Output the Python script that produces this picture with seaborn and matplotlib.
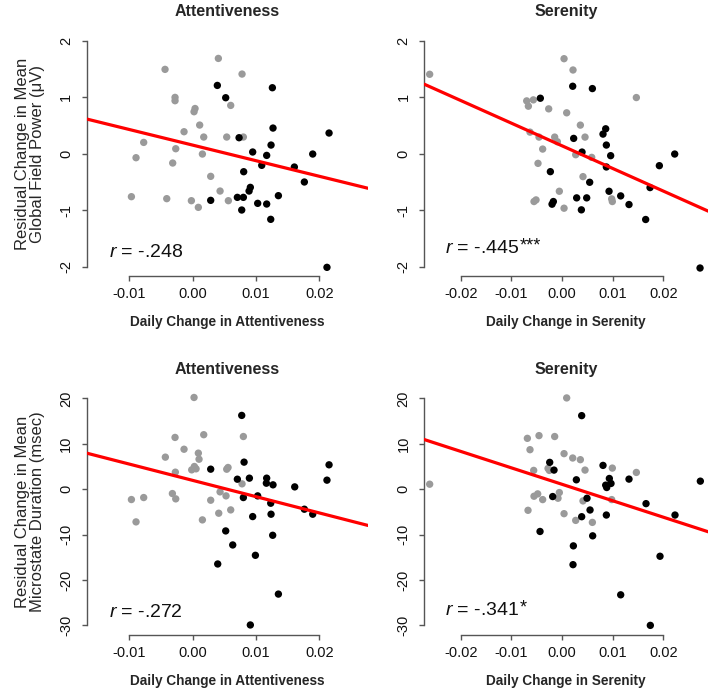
import numpy as np
import pandas as pd
import matplotlib
matplotlib.use("Agg")
import matplotlib.pyplot as plt
import seaborn as sns

sns.set_style("white")
plt.rcParams['font.family'] = ['Liberation Sans', 'DejaVu Sans']
plt.rcParams['axes.unicode_minus'] = False
plt.rcParams['mathtext.fontset'] = 'custom'
plt.rcParams['mathtext.rm'] = 'Liberation Sans'
plt.rcParams['mathtext.it'] = 'Liberation Sans:italic'

# ---------------- data ----------------
# Panel A: Attentiveness vs GFP
att_gfp_gray_x = [0.00405, -0.00437, 0.00779, -0.00279, -0.00279, 0.00037, 0.00021, 0.0060, 0.0011,
                  -0.00137, 0.00174, 0.00537, 0.0080, -0.00774, -0.00268, 0.00153, -0.00895, -0.00316,
                  0.00284, 0.00432, -0.00968, -0.0041, -0.00021, 0.00563, 0.00089]
att_gfp_gray_y = [1.687, 1.493, 1.41, 0.997, 0.938, 0.80, 0.743, 0.855, 0.507,
                  0.389, 0.295, 0.295, 0.295, 0.20, 0.088, -0.006, -0.071, -0.165,
                  -0.401, -0.661, -0.761, -0.796, -0.832, -0.832, -0.95]
att_gfp_black_x = [0.00389, 0.00521, 0.01258, 0.01268, 0.02153, 0.00732, 0.01237, 0.00947, 0.01168,
                   0.01895, 0.0109, 0.01605, 0.00805, 0.01763, 0.0091, 0.0089, 0.00705, 0.0080,
                   0.01353, 0.00284, 0.01026, 0.01168, 0.00774, 0.01232, 0.0212]
att_gfp_black_y = [1.209, 0.991, 1.168, 0.454, 0.366, 0.283, 0.153, 0.03, -0.03,
                   -0.006, -0.206, -0.236, -0.319, -0.501, -0.596, -0.661, -0.773, -0.773,
                   -0.743, -0.826, -0.879, -0.891, -0.997, -1.162, -2.012]

# Panel B: Serenity vs GFP
ser_gfp_gray_x = [-0.02612, 0.0004, 0.00217, 0.01467, -0.00697, -0.00566, -0.00664, -0.00263, 0.00092,
                  0.00362, -0.00632, -0.00454, -0.00145, 0.00454, -0.00092, -0.00382, 0.0027, 0.00586,
                  -0.00474, 0.00414, -0.00053, -0.00513, -0.00553, 0.0098, 0.00993, 0.0004]
ser_gfp_gray_y = [1.406, 1.682, 1.482, 0.994, 0.935, 0.953, 0.841, 0.794, 0.724,
                  0.506, 0.382, 0.294, 0.294, 0.294, 0.212, 0.082, -0.018, -0.065,
                  -0.171, -0.406, -0.665, -0.818, -0.847, -0.80, -0.847, -0.965]
ser_gfp_black_x = [0.00211, 0.00599, -0.00428, 0.00862, 0.00809, 0.0023, 0.00875, 0.00395, 0.0096,
                   0.02224, 0.00875, 0.01921, -0.0023, 0.00546, 0.01737, 0.00928, 0.01158, 0.01322,
                   0.00289, 0.00487, -0.00171, -0.00197, 0.00382, 0.01651, 0.02724]
ser_gfp_black_y = [1.194, 1.153, 0.982, 0.441, 0.347, 0.271, 0.153, 0.029, -0.035,
                   -0.006, -0.235, -0.212, -0.318, -0.506, -0.60, -0.665, -0.747, -0.90,
                   -0.782, -0.782, -0.847, -0.894, -0.994, -1.165, -2.024]

# Panel C: Attentiveness vs microstate duration
att_dur_gray_x = [0.00021, -0.00279, 0.00174, 0.0080, -0.00137, -0.00432, 0.00089, 0.0010, -0.00274,
                  -0.00016, 0.00026, 0.00053, 0.00537, 0.00558, 0.00779, 0.00432, 0.00526, -0.00968,
                  -0.00774, -0.00321, -0.00268, 0.00284, 0.00411, 0.0060, -0.00895, 0.00153]
att_dur_gray_y = [20.2, 11.4, 12.0, 11.6, 8.8, 7.06, 7.94, 6.6, 3.75,
                  4.26, 5.0, 4.49, 4.4, 4.78, 1.18, -0.59, -1.47, -2.28,
                  -1.84, -0.96, -2.13, -2.43, -5.29, -4.56, -7.2, -6.76]
att_dur_black_x = [0.00774, 0.00811, 0.02153, 0.00284, 0.00895, 0.00705, 0.01168, 0.01163, 0.01268,
                   0.0212, 0.01611, 0.01026, 0.0080, 0.01232, 0.01763, 0.01895, 0.00947, 0.01237,
                   0.00521, 0.01263, 0.00632, 0.0099, 0.00395, 0.01353, 0.0091]
att_dur_black_y = [16.25, 5.96, 5.37, 4.41, 2.43, 2.2, 2.43, 1.32, 0.96,
                   1.99, 0.51, -1.47, -1.84, -3.09, -4.41, -5.51, -6.03, -5.51,
                   -9.19, -10.15, -12.28, -14.56, -16.47, -23.1, -29.9]

# Panel D: Serenity vs microstate duration
ser_dur_gray_x = [-0.02612, 0.00092, -0.00684, -0.00454, -0.00145, -0.00632, 0.0004, 0.00211, 0.00362,
                  -0.00559, -0.00276, -0.0025, 0.00454, 0.00993, 0.01467, -0.00053, -0.0048, -0.00553,
                  -0.00079, -0.00382, 0.00414, 0.0098, -0.00671, 0.0004, 0.0027, 0.00599]
ser_dur_gray_y = [1.1, 20.1, 11.2, 11.8, 11.6, 8.7, 7.83, 6.87, 6.5,
                  4.14, 4.58, 4.14, 4.21, 4.65, 3.69, -0.74, -1.03, -1.55,
                  -1.99, -2.29, -2.58, -2.29, -4.65, -5.39, -6.87, -7.31]
ser_dur_black_x = [0.00388, -0.00243, -0.00158, 0.00809, 0.00283, 0.01322, 0.00934, 0.0273, 0.00862,
                   0.00882, 0.00967, -0.00184, 0.00493, 0.01658, 0.00553, 0.00875, 0.0223, 0.00388,
                   -0.00434, 0.00605, 0.00224, 0.01934, 0.00217, 0.01158, 0.01743]
ser_dur_black_y = [16.2, 5.91, 4.21, 5.24, 2.07, 2.22, 2.36, 1.77, 0.89,
                   0.37, 1.26, -1.62, -1.99, -3.18, -4.58, -5.69, -5.69, -6.06,
                   -9.31, -10.27, -12.48, -14.77, -16.62, -23.26, -29.99]

# regression lines (intercept, slope)
line_att_gfp = (0.152, -27.6)
line_ser_gfp = (0.14, -40.1)
line_att_dur = (1.94, -358.5)
line_ser_dur = (1.08, -362.4)

titles = ["Attentiveness", "Serenity", "Attentiveness", "Serenity"]
xlabels = ["Daily Change in Attentiveness", "Daily Change in Serenity",
           "Daily Change in Attentiveness", "Daily Change in Serenity"]
ylabels = ["Residual Change in Mean\nGlobal Field Power (\u03bcV)", None,
           "Residual Change in Mean\nMicrostate Duration (msec)", None]
r_values = ["-.248", "-.445", "-.272", "-.341"]
r_stars = ["", "***", "", "*"]

att_xticks = [-0.01, 0.00, 0.01, 0.02]
ser_xticks = [-0.02, -0.01, 0.00, 0.01, 0.02]
gfp_yticks = [-2, -1, 0, 1, 2]
dur_yticks = [-30, -20, -10, 0, 10, 20]

panels = [
    (att_gfp_gray_x, att_gfp_gray_y, att_gfp_black_x, att_gfp_black_y, line_att_gfp, att_xticks, gfp_yticks),
    (ser_gfp_gray_x, ser_gfp_gray_y, ser_gfp_black_x, ser_gfp_black_y, line_ser_gfp, ser_xticks, gfp_yticks),
    (att_dur_gray_x, att_dur_gray_y, att_dur_black_x, att_dur_black_y, line_att_dur, att_xticks, dur_yticks),
    (ser_dur_gray_x, ser_dur_gray_y, ser_dur_black_x, ser_dur_black_y, line_ser_dur, ser_xticks, dur_yticks),
]

xlims = [(-0.01674, 0.02768), (-0.02718, 0.02887), (-0.01674, 0.02768), (-0.02718, 0.02887)]
ylims = [(-2.16, 2.16), (-2.16, 2.16), (-32, 22), (-32, 22)]
r_pos = [(0.079, 0.077), (0.073, 0.093), (0.079, 0.073), (0.073, 0.080)]

W, H = 709, 688
fig = plt.figure(figsize=(W / 100, H / 100), dpi=100)
axes_rects = [
    (86.7, 31.7, 281.3, 244.0),
    (424.3, 31.7, 284.0, 244.0),
    (86.7, 389.3, 281.3, 245.2),
    (424.3, 389.3, 284.0, 245.2),
]

axis_col = "#555555"
for i, (gx, gy, bx, by, (b0, b1), xt, yt) in enumerate(panels):
    l, t, w, h = axes_rects[i]
    ax = fig.add_axes([l / W, 1 - (t + h) / H, w / W, h / H])
    df = pd.DataFrame({
        "x": list(gx) + list(bx),
        "y": list(gy) + list(by),
        "group": ["gray"] * len(gx) + ["black"] * len(bx),
    })
    sns.scatterplot(data=df, x="x", y="y", hue="group",
                    palette={"gray": "#9a9a9a", "black": "#000000"},
                    s=28, linewidth=0, legend=False, ax=ax, zorder=2)
    ax.axline((0, b0), slope=b1, color="#ff0000", lw=2.3, zorder=3)
    ax.set_xlim(*xlims[i])
    ax.set_ylim(*ylims[i])
    ax.set_xticks(xt)
    ax.set_xticklabels([f"{v:.2f}" for v in xt])
    ax.set_yticks(yt)
    ax.set_yticklabels([str(v) for v in yt], rotation=90, va="center")
    for s in ["top", "right"]:
        ax.spines[s].set_visible(False)
    for s in ["left", "bottom"]:
        ax.spines[s].set_color(axis_col)
        ax.spines[s].set_linewidth(1.0)
    ax.spines["bottom"].set_bounds(xt[0], xt[-1])
    ax.spines["left"].set_bounds(yt[0], yt[-1])
    ax.tick_params(axis="both", which="both", direction="out", length=3.8, width=1.0,
                   color=axis_col, labelsize=10.5, labelcolor="#111111", pad=4.5,
                   bottom=True, left=True)
    ax.tick_params(axis="y", pad=6)
    ax.set_title(titles[i], fontsize=11.5, fontweight="bold", pad=11)
    ax.set_xlabel(xlabels[i], fontsize=9.8, fontweight="bold", labelpad=10)
    if ylabels[i]:
        ax.set_ylabel(ylabels[i], fontsize=12, labelpad=10, linespacing=1.05)
    else:
        ax.set_ylabel("")
    rt = ax.text(r_pos[i][0], r_pos[i][1], r"$\it{r}$ = " + r_values[i], transform=ax.transAxes,
                 fontsize=14, va="baseline", ha="left", color="#111111")
    if r_stars[i]:
        ax.annotate(r_stars[i], xy=(1.0, 0.0), xycoords=rt, xytext=(0.3, 2.0),
                    textcoords="offset points", fontsize=13, va="bottom", ha="left",
                    color="#111111")
    ax.grid(False)

fig.savefig("out.png", dpi=100)
